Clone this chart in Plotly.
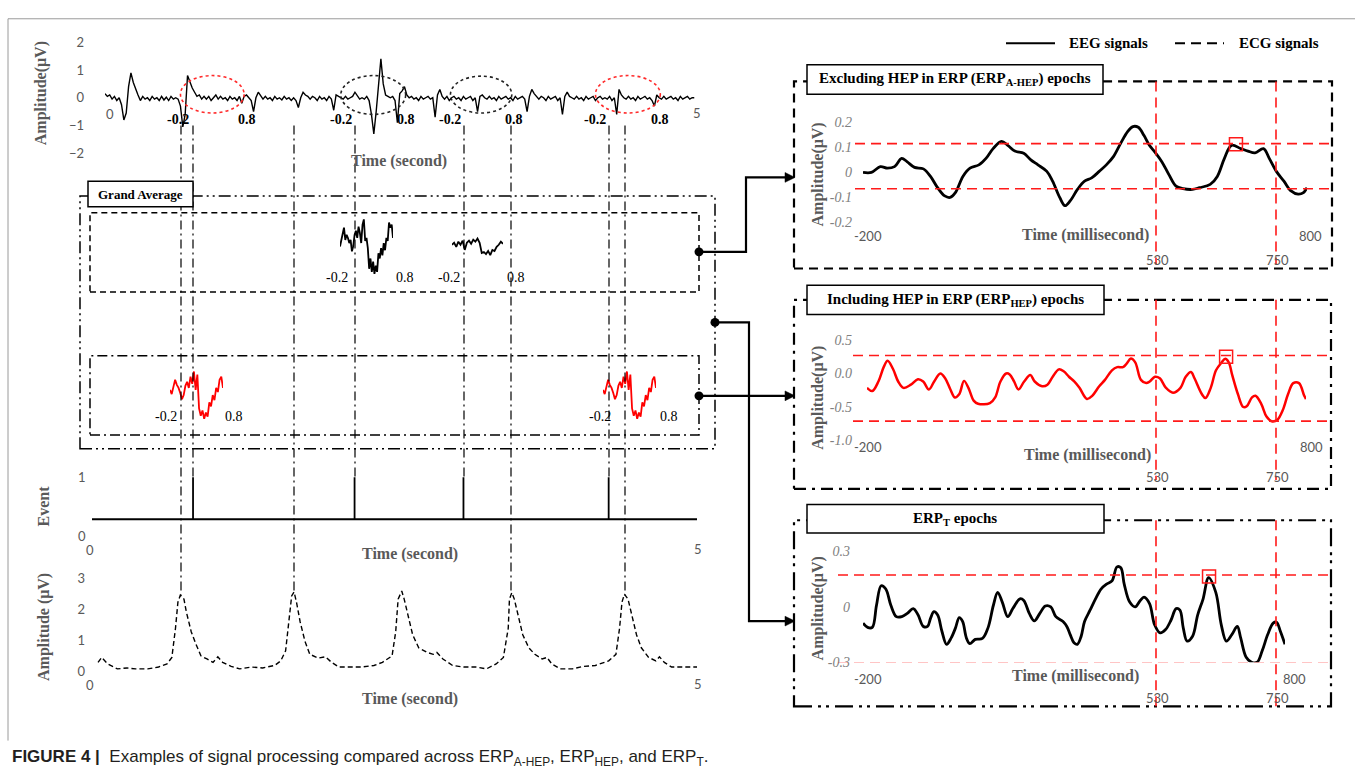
import plotly.graph_objects as go

W, H = 1355, 777


def X(px):
    return px / W


def Y(py):
    return 1 - py / H


# ---------------- data ----------------
# raw EEG (uV), sampled every 0.02 s from 0 to 5 s
eeg_dt = 0.02
eeg_v = [
    0.15, 0.05, 0.10, -0.05, 0.05, -0.10, 0.00, -0.25, -0.80, -0.55,
    0.40, 0.90, 0.55, 0.30, 0.10, -0.10, 0.05, -0.05, 0.00, -0.10,
    0.05, -0.05, 0.00, -0.10, 0.05, -0.08, 0.02, -0.10, 0.05, -0.05,
    0.00, -0.05, -0.30, -1.05, -0.60, 0.80, 0.55, 0.35, 0.20, 0.05,
    0.10, -0.05, 0.05, -0.05, 0.05, -0.10, 0.00, 0.10, -0.05, 0.05,
    -0.05, 0.00, -0.10, 0.05, -0.05, 0.00, -0.10, 0.05, -0.20, 0.05,
    0.10, 0.00, -0.10, -0.50, 0.00, 0.20, 0.05, -0.05, 0.05, -0.05,
    0.00, -0.10, 0.05, -0.05, 0.00, -0.08, 0.05, -0.05, 0.00, -0.10,
    0.00, -0.10, -0.35, 0.00, 0.20, 0.10, 0.05, -0.05, 0.05, 0.00,
    -0.10, 0.05, -0.05, 0.00, -0.10, 0.05, -0.05, -0.45, 0.10, 0.05,
    0.00, -0.05, 0.05, -0.05, 0.00, 0.05, 0.20, 0.05, -0.05, 0.00,
    -0.05, 0.05, -0.10, -0.60, -1.30, -0.50, 0.50, 1.40, 0.50, 0.10,
    0.05, 0.00, 0.05, -0.10, -0.90, 0.15, 0.25, 0.40, 0.10, 0.00,
    0.05, -0.05, 0.00, -0.10, 0.05, -0.05, 0.00, 0.05, -0.05, 0.00,
    -0.70, 0.10, 0.30, 0.05, -0.05, 0.05, -0.10, 0.00, 0.05, -0.05,
    0.00, -0.10, 0.05, -0.05, 0.00, 0.05, -0.10, 0.00, -0.50, 0.05,
    0.10, 0.00, -0.05, 0.05, -0.05, 0.00, -0.10, 0.05, -0.05, 0.00,
    0.05, -0.05, 0.00, -0.10, 0.05, -0.05, 0.00, 0.05, -0.05, -0.50,
    0.05, 0.30, 0.15, 0.05, -0.05, 0.05, 0.00, -0.10, 0.05, -0.05,
    0.00, 0.05, -0.10, 0.00, -0.60, 0.05, 0.20, 0.05, 0.00, -0.05,
    0.05, -0.05, 0.00, -0.10, 0.05, -0.05, 0.00, 0.05, -0.10, 0.00,
    0.05, -0.05, 0.00, -0.05, 0.05, -0.10, 0.00, -0.60, 0.30, 0.10,
    0.00, -0.05, 0.05, -0.05, 0.00, -0.10, 0.05, -0.05, 0.00, 0.05,
    -0.05, 0.00, -0.10, -0.30, 0.10, 0.00, -0.05, 0.05, -0.05, 0.00,
    0.05, -0.05, 0.00, -0.10, 0.05, -0.05, 0.00, 0.05, -0.05, 0.00,
    0.00,
]
eeg_t = [i * eeg_dt for i in range(len(eeg_v))]

# epoch windows marked by dotted ellipses on the raw EEG (s, uV)
epoch_t0 = [0.64, 2.00, 2.93, 4.16]
epoch_t1 = [1.18, 2.55, 3.45, 4.71]
epoch_lo = [-0.55, -0.60, -0.55, -0.55]
epoch_hi = [0.80, 0.80, 0.78, 0.80]
epoch_red = [True, False, False, True]

# events (s)
event_t = [0.835, 2.17, 3.07, 4.27]

# ECG (uV)
ecg_t = [0.05, 0.08, 0.13, 0.21, 0.29, 0.36, 0.46, 0.55, 0.62, 0.66,
         0.69, 0.71, 0.73, 0.76, 0.78, 0.82, 0.86, 0.90, 0.95, 1.00,
         1.04, 1.08, 1.15, 1.22, 1.32, 1.41, 1.51, 1.56, 1.60, 1.62,
         1.65, 1.67, 1.69, 1.72, 1.76, 1.80, 1.87, 1.93, 1.98, 2.04,
         2.14, 2.23, 2.33, 2.40, 2.48, 2.51, 2.53, 2.56, 2.58, 2.61,
         2.65, 2.70, 2.77, 2.82, 2.85, 2.90, 2.98, 3.07, 3.17, 3.26,
         3.34, 3.40, 3.44, 3.45, 3.47, 3.49, 3.52, 3.56, 3.61, 3.66,
         3.72, 3.76, 3.80, 3.87, 3.97, 4.06, 4.16, 4.27, 4.33, 4.36,
         4.38, 4.40, 4.43, 4.46, 4.50, 4.54, 4.60, 4.66, 4.69, 4.73,
         4.79, 4.89, 5.00]
ecg_v = [0.28, 0.44, 0.23, 0.07, 0.10, 0.07, 0.07, 0.13, 0.23, 0.44,
         1.38, 2.22, 2.45, 2.32, 1.90, 1.27, 0.86, 0.49, 0.39, 0.28,
         0.46, 0.28, 0.15, 0.07, 0.13, 0.10, 0.18, 0.33, 0.65, 1.38,
         2.42, 2.55, 2.22, 1.59, 0.96, 0.54, 0.42, 0.46, 0.28, 0.13,
         0.13, 0.13, 0.18, 0.28, 0.49, 1.27, 2.32, 2.58, 2.32, 1.80,
         1.17, 0.75, 0.60, 0.54, 0.60, 0.39, 0.18, 0.13, 0.13, 0.07,
         0.23, 0.44, 1.38, 2.32, 2.53, 2.32, 1.80, 1.17, 0.75, 0.54,
         0.39, 0.44, 0.23, 0.07, 0.07, 0.15, 0.18, 0.33, 0.54, 1.38,
         2.22, 2.48, 2.32, 1.80, 1.17, 0.75, 0.44, 0.33, 0.46, 0.28,
         0.13, 0.13, 0.13]

# grand-average mini epochs (-0.2 .. 0.8 s, arbitrary samples)
ga_black1 = [-0.33, 0.33, 1.0, 1.5, 0.3, 0.8, 0.5, 0.0, 0.3, -0.8,
             -0.3, 0.8, 1.2, 0.5, 1.6, 1.0, 0.0, 1.8, 2.3, 0.2,
             0.5, -0.5, -2.5, -1.5, -2.8, -1.8, -3.0, -2.2, -2.8, -1.0,
             -1.5, -0.5, -1.2, 0.0, -0.7, 0.5, 0.2, 2.0, 1.5, 1.8, 0.5]
ga_black2 = [0.0, 0.2, -0.2, 0.3, 0.0, 0.4, -0.5, 0.2, 0.4, 0.1,
             0.5, 0.3, 0.6, 0.2, -0.8, -0.7, -0.9, -0.6, -1.0, -0.5,
             -0.6, -0.2, 0.0, 0.3, 0.1]
ga_red = [0.0, -0.4, 0.3, 1.0, 0.5, 0.2, -0.3, -0.9, -0.5, 0.4,
          0.8, 0.2, 1.3, 0.6, 1.8, 0.0, 1.5, -1.8, -2.5, -2.0,
          -2.8, -2.2, -2.6, -1.2, -1.6, -0.5, -1.0, 0.2, -0.2, 1.0,
          1.3, 0.2]

# ERP_A-HEP epochs (ms, uV)
ahep_t = [-200, -181, -161, -145, -129, -113, -101, -84, -64, -48,
          -32, -16, -4, 8, 25, 41, 61, 77, 93, 112,
          126, 142, 162, 178, 194, 214, 227, 243, 255, 267,
          283, 299, 315, 332, 348, 364, 380, 396, 408, 420,
          433, 445, 457, 473, 489, 505, 521, 542, 558, 582,
          598, 614, 630, 651, 667, 683, 702, 715, 731, 748,
          764, 780, 792, 800]
ahep_v = [0, 0, 0.023, 0.017, 0.023, 0.056, 0.043, 0.02, 0.014, -0.016,
          -0.061, -0.094, -0.100, -0.081, -0.016, 0.017, 0.030, 0.056, 0.095, 0.124,
          0.108, 0.085, 0.076, 0.050, 0.030, 0.004, -0.035, -0.100, -0.133, -0.113,
          -0.068, -0.035, -0.022, 0.004, 0.030, 0.063, 0.115, 0.163, 0.183, 0.180,
          0.147, 0.108, 0.082, 0.043, -0.009, -0.055, -0.065, -0.068, -0.061, -0.048,
          -0.016, 0.056, 0.108, 0.095, 0.085, 0.078, 0.095, 0.056, 0.004, -0.035,
          -0.074, -0.087, -0.081, -0.061]
ahep_thr = [0.115, -0.065]
ahep_peak = (640, 0.112)

# ERP_HEP epochs (ms, uV)
hep_t = [-200, -188, -174, -162, -153, -141, -129, -117, -100, -84,
         -72, -59, -47, -33, -22, -10, 0, 10, 21, 31,
         43, 53, 80, 92, 104, 117, 125, 135, 145, 158,
         172, 182, 199, 211, 223, 237, 248, 260, 272, 284,
         301, 313, 329, 342, 358, 370, 383, 391, 401, 411,
         424, 436, 444, 456, 467, 481, 497, 514, 526, 538,
         546, 563, 571, 583, 595, 608, 616, 624, 632, 645,
         657, 665, 677, 685, 698, 710, 722, 735, 747, 759,
         771, 784, 796, 800]
hep_v = [-0.214, -0.262, -0.119, 0.095, 0.190, 0.071, -0.119, -0.214, -0.167, -0.086,
         -0.119, -0.238, -0.119, 0.0, -0.071, -0.238, -0.357, -0.310, -0.110, -0.214,
         -0.405, -0.452, -0.443, -0.357, -0.119, 0.0, -0.014, -0.119, -0.238, -0.119,
         -0.024, -0.119, -0.190, -0.167, -0.048, 0.062, 0.033, -0.048, -0.119, -0.214,
         -0.381, -0.333, -0.190, -0.095, 0.048, 0.095, 0.095, 0.143, 0.224, 0.167,
         -0.095, -0.143, -0.119, -0.048, -0.071, -0.214, -0.286, -0.214, -0.048, 0.024,
         -0.071, -0.310, -0.367, -0.214, 0.048, 0.167, 0.220, 0.167, -0.024, -0.310,
         -0.500, -0.490, -0.357, -0.333, -0.452, -0.643, -0.714, -0.690, -0.548, -0.310,
         -0.143, -0.143, -0.333, -0.381]
hep_thr = [0.27, -0.71]
hep_peak = (618, 0.25)

# ERP_T epochs (ms, uV)
ert_t = [-200, -189, -178, -168, -157, -146, -134, -121, -108, -95,
         -81, -70, -57, -47, -40, -32, -23, -13, -2, 9,
         19, 28, 36, 45, 53, 66, 83, 96, 109, 119,
         130, 143, 155, 172, 181, 194, 206, 219, 232, 245,
         257, 274, 283, 291, 300, 308, 317, 325, 338, 351,
         364, 377, 390, 402, 411, 419, 432, 445, 457, 466,
         479, 491, 504, 517, 530, 542, 551, 559, 568, 581,
         593, 606, 619, 636, 649, 661, 674, 687, 695, 708,
         721, 734, 746, 759, 772, 780, 789, 800]
ert_v = [-0.088, -0.111, -0.111, 0.009, 0.115, 0.097, 0.009, -0.053, -0.053, -0.035,
         -0.009, -0.041, -0.106, -0.106, -0.062, -0.026, -0.044, -0.132, -0.203, -0.168,
         -0.115, -0.058, -0.079, -0.168, -0.199, -0.176, -0.171, -0.115, 0.009, 0.079,
         0.026, -0.053, -0.009, 0.044, 0.035, -0.035, -0.076, -0.035, 0.005, 0.0,
         -0.053, -0.079, -0.106, -0.150, -0.194, -0.203, -0.159, -0.079, -0.018, 0.044,
         0.097, 0.123, 0.141, 0.217, 0.212, 0.123, 0.026, 0.0, 0.035, 0.053,
         0.018, -0.097, -0.141, -0.123, -0.071, -0.009, -0.018, -0.115, -0.185, -0.159,
         -0.044, 0.044, 0.159, 0.079, -0.097, -0.185, -0.150, -0.106, -0.168, -0.273,
         -0.300, -0.300, -0.238, -0.150, -0.088, -0.083, -0.132, -0.203]
ert_thr = [0.173, -0.303]
ert_peak = (620, 0.165)

# ---------------- styling ----------------
SERIF = "Liberation Serif"
SANS = "Lato"
GRAY = "#595959"
LGRAY = "#808080"
RED = "#ff1a1a"

fig = go.Figure()
layout = dict(width=W, height=H, margin=dict(l=0, r=0, t=0, b=0),
              paper_bgcolor="white", plot_bgcolor="rgba(0,0,0,0)", showlegend=False)


def axis_pair(n, xpx, ypx, xr, yr, yextra=None):
    xa = dict(domain=[X(xpx[0]), X(xpx[1])], range=xr, showgrid=False, zeroline=False,
              showline=False, ticks="", showticklabels=False, fixedrange=True,
              anchor="y" if n == 1 else "y%d" % n)
    ya = dict(domain=[Y(ypx[1]), Y(ypx[0])], range=yr, showgrid=False, zeroline=False,
              showline=False, ticks="", showticklabels=False, fixedrange=True,
              anchor="x" if n == 1 else "x%d" % n)
    if yextra:
        ya.update(yextra)
    layout["xaxis" if n == 1 else "xaxis%d" % n] = xa
    layout["yaxis" if n == 1 else "yaxis%d" % n] = ya


def ref(n):
    return ("x", "y") if n == 1 else ("x%d" % n, "y%d" % n)


gray_ticks = dict(showticklabels=True, tickfont=dict(family=SANS, size=13, color=GRAY))
ital_ticks = dict(showticklabels=True,
                  tickfont=dict(family=SERIF, size=14, color=LGRAY, style="italic"))

# 1 raw EEG
axis_pair(1, (105, 694.5), (35, 148.3), [0, 5], [-2, 2],
          dict(tickvals=[-2, -1, 0, 1, 2], ticklabelstandoff=20, **gray_ticks))
# 2 events
axis_pair(2, (92, 697), (474.7, 543.5), [0, 5], [-0.5, 1.1])
# 3 ECG
axis_pair(3, (92, 697), (582, 677), [0, 5], [0, 3],
          dict(tickvals=[0, 1, 2, 3], ticklabelstandoff=6, **gray_ticks))
# 4-7 grand average minis
axis_pair(4, (340, 393), (213.75, 276.75), [0, len(ga_black1) - 1], [-3.5, 2.5])
axis_pair(5, (452, 503), (215.5, 278.5), [0, len(ga_black2) - 1], [-3.5, 2.5])
axis_pair(6, (170, 223), (363.75, 426.75), [0, len(ga_red) - 1], [-3.5, 2.5])
axis_pair(7, (603, 656), (363.75, 426.75), [0, len(ga_red) - 1], [-3.5, 2.5])
# 8-10 right panels
axis_pair(8, (863, 1307), (116.7, 219), [-200, 800], [-0.2, 0.2],
          dict(tickvals=[0.2, 0.1, 0, -0.1, -0.2], ticktext=["0.2", "0.1", "0", "-0.1", "-0.2"],
               ticklabelstandoff=10, **ital_ticks))
axis_pair(9, (867, 1306), (339, 441.6), [-200, 800], [-1.0, 0.5],
          dict(tickvals=[0.5, 0.0, -0.5, -1.0], ticktext=["0.5", "0.0", "-0.5", "-1.0"],
               ticklabelstandoff=14, **ital_ticks))
axis_pair(10, (863, 1285), (555, 668), [-200, 800], [-0.3, 0.3],
          dict(tickvals=[0.3, 0, -0.3], ticktext=["0.3", "0", "-0.3"],
               ticklabelstandoff=12, **ital_ticks))


def add_line(n, x, y, color="black", width=1.5, dash="solid", shape="linear"):
    xr, yr = ref(n)
    fig.add_trace(go.Scatter(x=x, y=y, mode="lines", xaxis=xr, yaxis=yr,
                             line=dict(color=color, width=width, dash=dash, shape=shape),
                             hoverinfo="skip"))


add_line(1, eeg_t, eeg_v, width=1.4)

# events
ev_x, ev_y = [0, 5, None], [0, 0, None]
for t in event_t:
    ev_x += [t, t, None]
    ev_y += [0, 1, None]
add_line(2, ev_x, ev_y, width=1.8)

add_line(3, ecg_t, ecg_v, width=1.4, dash="5px,3px")

add_line(4, list(range(len(ga_black1))), ga_black1, width=1.8)
add_line(5, list(range(len(ga_black2))), ga_black2, width=1.8)
add_line(6, list(range(len(ga_red))), ga_red, color="#ff0000", width=1.8)
add_line(7, list(range(len(ga_red))), ga_red, color="#ff0000", width=1.8)

add_line(8, ahep_t, ahep_v, width=2.8, shape="spline")
add_line(9, hep_t, hep_v, color="#ff0000", width=2.5, shape="spline")
add_line(10, ert_t, ert_v, width=2.8, shape="spline")

for n, (pt, pv) in zip([8, 9, 10], [ahep_peak, hep_peak, ert_peak]):
    xr, yr = ref(n)
    fig.add_trace(go.Scatter(x=[pt], y=[pv], mode="markers", xaxis=xr, yaxis=yr,
                             marker=dict(symbol="square-open", size=13, color=RED,
                                         line=dict(width=1.5, color=RED)),
                             hoverinfo="skip"))

# ---------------- shapes ----------------
shapes = []


def seg(x0, y0, x1, y1, color="black", width=1.5, dash="solid"):
    shapes.append(dict(type="line", xref="paper", yref="paper", x0=X(x0), y0=Y(y0),
                       x1=X(x1), y1=Y(y1), line=dict(color=color, width=width, dash=dash)))


def box(x0, y0, x1, y1, color="black", width=1.5, dash="solid", fill=None):
    d = dict(type="rect", xref="paper", yref="paper", x0=X(x0), y0=Y(y1), x1=X(x1), y1=Y(y0),
             line=dict(color=color, width=width, dash=dash))
    if fill:
        d["fillcolor"] = fill
    shapes.append(d)


def path(pts, color="black", width=2.2, fill=None):
    s = "M " + " L ".join("%f %f" % (X(a), Y(b)) for a, b in pts)
    d = dict(type="path", xref="paper", yref="paper", path=s + (" Z" if fill else ""),
             line=dict(color=color, width=width if not fill else 0.5))
    if fill:
        d["fillcolor"] = fill
    shapes.append(d)


def dot(x, y, r=4.5):
    shapes.append(dict(type="circle", xref="paper", yref="paper", x0=X(x - r), x1=X(x + r),
                       y0=Y(y + r), y1=Y(y - r), fillcolor="black", line=dict(color="black", width=0)))


# figure frame
seg(8, 11, 1360, 11, color="#9a9a9a", width=1)
seg(8, 11, 8, 748, color="#9a9a9a", width=1)

# epoch ellipses on raw EEG
for t0, t1, lo, hi, red in zip(epoch_t0, epoch_t1, epoch_lo, epoch_hi, epoch_red):
    shapes.append(dict(type="circle", xref="x", yref="y", x0=t0, x1=t1, y0=lo, y1=hi,
                       line=dict(color="#ff2a2a" if red else "#222222", width=1.6, dash="dot")))

# grand-average boxes
DDOT = "12px,4px,2px,4px,2px,4px"
box(80, 192, 715, 450, width=1.5, dash=DDOT)
box(90, 209, 699, 290, width=1.5, dash="6px,4px")
box(90, 355, 699, 436, width=1.5, dash="10px,4px,2px,4px")

# vertical connectors: (x px, bottom y px)
conn = [(181, 600), (193, 479), (294, 597), (355, 479), (464, 479), (511, 598), (609, 479), (625, 600)]
for cx, cy in conn:
    seg(cx, 120, cx, cy, width=1.2, dash="9px,4px,2px,4px")

box(88, 177, 193, 203, width=1.5, fill="white")

# right panel boxes
box(794, 75, 1332, 266, width=2.2, dash="9px,6px")
box(794, 298, 1331, 491, width=2.2, dash="12px,6px,3px,6px")
box(794, 523, 1331, 713, width=2.2, dash="18px,6px,3px,5px,3px,6px")

# red guides
for n, thr, x0, (ytop, ybot) in [(8, ahep_thr, 855, (75, 262)), (9, hep_thr, 853, (298, 482)),
                                  (10, ert_thr, 838, (523, 713))]:
    for v in thr:
        shapes.append(dict(type="line", xref="paper", yref=ref(n)[1], x0=X(x0), x1=X(1330),
                           y0=v, y1=v, line=dict(color=RED, width=1.6, dash="10px,6px")))
    for vx in (1156, 1276):
        seg(vx, ytop, vx, ybot, color=RED, width=1.6, dash="10px,6px")

# title boxes
box(807, 58, 1103, 88, width=1.5, fill="white")
box(807, 283, 1104, 313, width=1.5, fill="white")
box(807, 507, 1104, 536, width=1.5, fill="white")

# legend
seg(1006, 36, 1055, 36, width=2)
seg(1175, 36, 1224, 36, width=2, dash="10px,6px")

# arrows
path([(699, 249), (746, 249), (746, 173), (786, 173)])
path([(715, 321), (749, 321), (749, 626), (786, 626)])
path([(699, 396), (786, 396)])
for ay in (173, 626, 396):
    path([(785, ay - 5), (795, ay), (785, ay + 5)], fill="black")
dot(699, 249)
dot(715, 321)
dot(699, 396)

layout["shapes"] = shapes

# ---------------- text ----------------
ann = []


def T(x, y, text, size=14, color="black", family=SERIF, angle=0, xanchor="center"):
    ann.append(dict(x=X(x), y=Y(y), xref="paper", yref="paper", text=text, showarrow=False,
                    font=dict(size=size, color=color, family=family), textangle=angle,
                    xanchor=xanchor, yanchor="middle"))


# raw EEG panel
T(41, 87, "<b>Amplitude(μV)</b>", 16, GRAY, angle=-90)
T(110, 108, "0", 13, GRAY, SANS)
T(697, 107, "5", 13, GRAY, SANS)
T(399, 156, "<b>Time (second)</b>", 16, GRAY)
for lx, lt in [(178, "-0.2"), (247, "0.8"), (341, "-0.2"), (406, "0.8"),
               (450, "-0.2"), (514, "0.8"), (595, "-0.2"), (660, "0.8")]:
    T(lx, 114, "<b>%s</b>" % lt, 14)

# grand average
T(140, 190, "<b>Grand Average</b>", 13)
for lx, ly, lt in [(337, 275, "-0.2"), (405, 275, "0.8"), (449, 275, "-0.2"), (516, 275, "0.8"),
                   (166, 417, "-0.2"), (234, 417, "0.8"), (600, 417, "-0.2"), (669, 417, "0.8")]:
    T(lx, ly, lt, 14)

# events
T(44, 508, "<b>Event</b>", 16, GRAY, angle=-90)
T(82, 479, "1", 13, GRAY, SANS)
T(82, 539, "0", 13, GRAY, SANS)
T(90, 553, "0", 13, GRAY, SANS)
T(698, 552, "5", 13, GRAY, SANS)
T(410, 557, "<b>Time (second)</b>", 16, GRAY)

# ECG
T(44, 632, "<b>Amplitude (μV)</b>", 16, GRAY, angle=-90)
T(90, 691, "0", 13, GRAY, SANS)
T(698, 690, "5", 13, GRAY, SANS)
T(410, 706, "<b>Time (second)</b>", 16, GRAY)

# legend
T(1108, 36, "<b>EEG signals</b>", 15)
T(1279, 36, "<b>ECG signals</b>", 15)

# right panels
T(955, 73, "<b>Excluding HEP in ERP (ERP<sub>A-HEP</sub>) epochs</b>", 15)
T(955, 298, "<b>Including HEP in ERP (ERP<sub>HEP</sub>) epochs</b>", 15)
T(955, 522, "<b>ERP<sub>T</sub> epochs</b>", 15)

for (amp_y, lab_y, time_x, time_y, sub_y, end_x) in [(170, 233, 1085, 232, 257, 1310),
                                                      (398, 448, 1087, 456, 479, 1311),
                                                      (613, 685, 1075, 682, 704, 1294)]:
    T(818, amp_y, "<b>Amplitude(μV)</b>", 16, GRAY, angle=-90)
    T(868, lab_y, "-200", 13, GRAY, SANS)
    T(end_x, lab_y, "800", 13, GRAY, SANS)
    T(time_x, time_y, "<b>Time (millisecond)</b>", 16, GRAY)
    T(1157, sub_y, "530", 13, GRAY, SANS)
    T(1277, sub_y, "750", 13, GRAY, SANS)

# caption
T(10, 766, "<b>FIGURE 4 | </b> Examples of signal processing compared across ERP<sub>A-HEP</sub>, "
           "ERP<sub>HEP</sub>, and ERP<sub>T</sub>.", 17, "#231f20", "Liberation Sans", xanchor="left")

layout["annotations"] = ann
fig.update_layout(**layout)

pin_page = (
    "document.documentElement.style.margin='0px';"
    "document.documentElement.style.padding='0px';"
    "document.documentElement.style.overflow='hidden';"
    "document.body.style.margin='0px';"
    "document.body.style.padding='0px';"
    "document.body.style.overflow='hidden';"
    "var gd=document.getElementsByClassName('plotly-graph-div')[0];"
    "gd.style.position='fixed';gd.style.top='0px';gd.style.left='0px';"
)
fig.write_html("out.html", config={"displayModeBar": False}, post_script=pin_page)
